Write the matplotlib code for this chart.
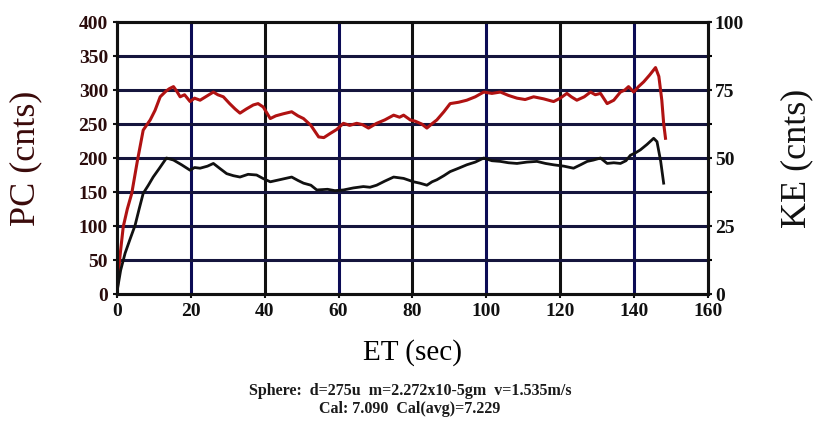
import matplotlib.pyplot as plt

# PC trace (left axis, counts)
pc_time = [0, 0.8, 1.7, 2.8, 4.0, 5.5, 7.1, 9.0, 10.3, 11.7, 13.2, 14.2, 15.3, 16.2, 17.1,
           18.3, 19.8, 21.0, 22.5, 24.0, 26.1, 27.3, 28.8, 30.5, 32.0, 33.3, 35.0, 36.9, 38.2, 39.6,
           41.5, 43.0, 45.0, 47.3, 49.0, 50.5, 52.5, 54.6, 56.0, 57.7, 59.5, 61.3, 63.0, 64.9, 66.5,
           68.1, 70.3, 72.5, 74.9, 76.5, 77.6, 79.4, 80.8, 82.5, 83.9, 85.2, 86.6, 88.5, 90.2, 92.5,
           94.7, 97.0, 99.3, 101.5, 103.8, 106.0, 108.3, 110.5, 112.8, 115.5, 118.2, 120.0, 121.8, 123.0, 124.5,
           126.5, 128.2, 129.5, 130.9, 132.7, 134.5, 136.3, 137.5, 138.5, 139.9, 141.2, 142.6, 144.2, 145.8, 146.7,
           147.5, 148.0, 148.5]
pc_cnts = [3, 55, 99, 125, 148, 195, 241, 256, 270, 290, 298, 302, 305, 298, 290,
           293, 283, 288, 285, 290, 297, 293, 290, 280, 272, 266, 272, 278, 280, 275,
           258, 262, 265, 268, 262, 258, 248, 231, 230, 236, 242, 251, 248, 251, 249,
           244, 251, 256, 263, 260, 263, 256, 254, 250, 244, 250, 256, 268, 280, 282,
           285, 290, 297, 295, 297, 292, 288, 286, 290, 287, 283, 288, 295, 290, 285,
           290, 297, 293, 295, 280, 285, 297, 300, 305, 297, 305, 312, 322, 333, 320,
           285, 251, 229]

# KE trace (right axis, counts)
ke_time = [0, 1.0, 2.2, 3.5, 4.9, 6.0, 7.1, 8.5, 9.8, 11.5, 13.4, 15.3, 17.5, 19.8, 21.0,
           22.5, 24.5, 26.1, 28.0, 29.7, 31.5, 33.3, 35.5, 37.8, 39.5, 41.5, 44.0, 47.3, 49.0, 50.5,
           52.5, 54.1, 57.0, 59.0, 61.3, 64.0, 66.7, 68.5, 70.3, 72.5, 74.9, 77.6, 80.3, 82.0, 83.9,
           85.3, 86.6, 88.5, 90.2, 92.5, 94.7, 97.0, 99.3, 101.5, 103.8, 106.0, 108.3, 111.0, 113.7, 116.0,
           118.2, 121.0, 123.6, 125.5, 127.3, 129.0, 130.9, 132.7, 134.5, 136.3, 137.8, 139.0, 140.5, 141.7, 143.5,
           145.3, 146.2, 147.2, 148.0]
ke_cnts = [0.75, 8.75, 15, 20, 25.25, 31.25, 37, 40, 43, 46.25, 50, 49.25, 47.5, 45.5, 46.5,
           46.25, 47, 48, 46, 44.25, 43.5, 43, 44, 43.75, 42.5, 41.25, 42, 43, 41.75, 40.75,
           40, 38.25, 38.5, 38, 38.25, 39, 39.5, 39.25, 40, 41.5, 43, 42.5, 41.25, 40.75, 40,
           41.25, 42, 43.5, 45, 46.25, 47.5, 48.5, 50, 49, 48.75, 48.25, 48, 48.5, 48.75, 48,
           47.5, 47, 46.25, 47.5, 48.75, 49.25, 50, 48, 48.25, 48, 49, 51, 52, 53, 55,
           57.25, 56, 48.75, 40.75]

pc_ticks = [0, 50, 100, 150, 200, 250, 300, 350, 400]
ke_ticks = [0, 25, 50, 75, 100]
et_ticks = [0, 20, 40, 60, 80, 100, 120, 140, 160]

plt.rcParams['font.family'] = ['Liberation Serif', 'DejaVu Serif']

fig = plt.figure(figsize=(8.18, 4.24), dpi=100)
ax = fig.add_axes([0.143, 0.3066, 0.7225, 0.6415])
ax2 = ax.twinx()

# grid drawn by hand so the colours can alternate like the original
for i, x in enumerate(et_ticks[1:-1]):
    ax.axvline(x, color='#0c0c55' if i % 2 == 0 else '#111111', lw=2.2, zorder=1)
for y in pc_ticks[1:-1]:
    ax.axhline(y, color='#15153d', lw=2.2, zorder=1)

ax.plot(pc_time, pc_cnts, color='#b01212', lw=2.2, zorder=3)
ax2.plot(ke_time, ke_cnts, color='#111111', lw=2.0, zorder=3)

ax.set_xlim(0, 160)
ax.set_ylim(0, 400)
ax2.set_ylim(0, 100)
ax.set_xticks(et_ticks)
ax.set_yticks(pc_ticks)
ax2.set_yticks(ke_ticks)
ax2.set_yticks([12.5, 37.5, 62.5, 87.5], minor=True)

for a in (ax, ax2):
    for s in a.spines.values():
        s.set_linewidth(2.2)
        s.set_color('#111111')

ax.tick_params(axis='both', labelsize=14, width=1.5, length=3, colors='#111111')
ax2.tick_params(axis='y', labelsize=14, width=1.5, length=3, colors='#111111', pad=2)
ax2.tick_params(axis='y', which='minor', width=1.5, length=3)
for lab in ax.get_yticklabels() + ax.get_xticklabels() + ax2.get_yticklabels():
    lab.set_fontweight('bold')
for lab in ax.get_yticklabels():
    lab.set_color('#2a0c0c')

ax.set_xlabel('ET (sec)', fontsize=21, labelpad=14)
ax.set_ylabel('PC (cnts)', fontsize=26, color='#3a0a0a', labelpad=26)
ax2.set_ylabel('KE (cnts)', fontsize=26, color='#111111', labelpad=26)

fig.text(0.501, 0.068, 'Sphere:  d=275u  m=2.272x10-5gm  v=1.535m/s',
         ha='center', fontsize=11.5, fontweight='bold', color='#1a1a1a')
fig.text(0.501, 0.025, 'Cal: 7.090  Cal(avg)=7.229',
         ha='center', fontsize=11.5, fontweight='bold', color='#1a1a1a')

fig.savefig('out.png', dpi=100)
